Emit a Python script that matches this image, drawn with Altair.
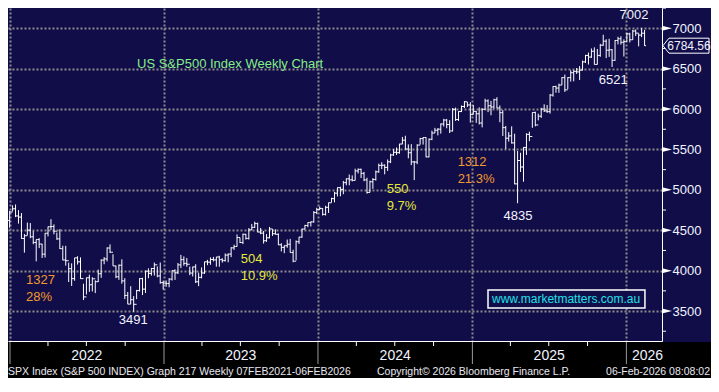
import altair as alt
import pandas as pd

NAVY = "#100d48"
GRID = "#8c8c8c"
FONT = "Liberation Sans"

# ---------------- weekly OHLC data (SPX, weeks ending Fridays) ----------------
first_open = 4538

close_2021 = [4712, 4621, 4726, 4766]
high_2021 = [4713, 4732, 4740, 4808]
low_2021 = [4532, 4600, 4531, 4734]

close_2022 = [4677, 4663, 4398, 4432, 4501, 4419, 4349, 4385, 4329, 4204, 4463, 4543, 4546,
              4488, 4393, 4272, 4132, 4123, 4024, 3901, 4158, 4109, 3901, 3675, 3912, 3825,
              3899, 3863, 3962, 4130, 4145, 4280, 4228, 4058, 3924, 4067, 3873, 3693, 3586,
              3640, 3583, 3753, 3901, 3771, 3993, 3965, 4026, 4072, 3934, 3852, 3845, 3840]
high_2022 = [4819, 4749, 4713, 4453, 4595, 4589, 4489, 4385, 4402, 4331, 4465, 4546, 4637,
             4573, 4471, 4513, 4308, 4307, 4099, 4090, 4158, 4178, 4164, 3838, 3913, 3950,
             3919, 3880, 4013, 4140, 4167, 4288, 4325, 4203, 4062, 4076, 4140, 3907, 3736,
             3807, 3685, 3762, 3906, 3911, 4001, 4028, 4034, 4100, 4052, 4101, 3876, 3878]
low_2022 = [4662, 4582, 4395, 4223, 4436, 4401, 4327, 4115, 4279, 4157, 4162, 4424, 4506,
            4450, 4381, 4268, 4128, 4062, 3859, 3811, 3875, 4075, 3900, 3637, 3705, 3738,
            3742, 3722, 3859, 3911, 4079, 4114, 4218, 4058, 3907, 3886, 3838, 3648, 3585,
            3584, 3491, 3647, 3741, 3698, 3723, 3906, 3938, 3939, 3918, 3838, 3764, 3800]

close_2023 = [3895, 3999, 3973, 4071, 4136, 4090, 4079, 3970, 4046, 3862, 3917, 3971, 4109,
              4105, 4138, 4133, 4169, 4136, 4124, 4192, 4205, 4282, 4299, 4410, 4348, 4450,
              4399, 4505, 4536, 4582, 4478, 4464, 4370, 4406, 4516, 4457, 4450, 4320, 4288,
              4308, 4327, 4224, 4117, 4358, 4415, 4514, 4559, 4595, 4604, 4719, 4755, 4770]
high_2023 = [3907, 4003, 4016, 4095, 4195, 4176, 4157, 4050, 4049, 4079, 3975, 4039, 4110,
             4133, 4164, 4170, 4170, 4184, 4155, 4213, 4213, 4290, 4322, 4448, 4408, 4458,
             4456, 4527, 4578, 4607, 4595, 4528, 4491, 4452, 4541, 4514, 4511, 4461, 4339,
             4311, 4385, 4393, 4259, 4374, 4418, 4521, 4567, 4598, 4609, 4738, 4778, 4794]
low_2023 = [3794, 3877, 3885, 3958, 4031, 4061, 4048, 3944, 3928, 3847, 3808, 3904, 3960,
            4068, 4073, 4114, 4049, 4048, 4099, 4113, 4103, 4167, 4257, 4297, 4341, 4328,
            4385, 4385, 4502, 4528, 4474, 4451, 4335, 4356, 4400, 4430, 4448, 4316, 4238,
            4216, 4283, 4223, 4104, 4127, 4329, 4406, 4510, 4537, 4546, 4593, 4699, 4751]

close_2024 = [4697, 4784, 4840, 4891, 4959, 5027, 5006, 5089, 5137, 5124, 5117, 5234, 5254,
              5204, 5123, 4967, 5100, 5128, 5223, 5303, 5305, 5278, 5347, 5432, 5465, 5460,
              5567, 5615, 5505, 5459, 5346, 5344, 5554, 5634, 5648, 5408, 5626, 5703, 5738,
              5751, 5815, 5864, 5808, 5729, 5996, 5870, 5969, 6032, 6090, 6051, 5931, 5971]
high_2024 = [4773, 4803, 4842, 4903, 4975, 5030, 5038, 5111, 5141, 5190, 5179, 5262, 5265,
             5263, 5222, 5150, 5114, 5146, 5239, 5325, 5342, 5315, 5376, 5447, 5505, 5524,
             5570, 5655, 5670, 5563, 5566, 5358, 5564, 5643, 5651, 5651, 5636, 5733, 5767,
             5765, 5822, 5879, 5878, 5863, 6012, 6018, 5973, 6044, 6099, 6087, 6085, 6050]
low_2024 = [4682, 4682, 4714, 4844, 4845, 4918, 4920, 4946, 5057, 5056, 5104, 5117, 5203,
            5146, 5107, 4953, 4969, 5012, 5114, 5211, 5257, 5192, 5234, 5331, 5420, 5432,
            5447, 5565, 5497, 5390, 5306, 5120, 5318, 5560, 5560, 5403, 5402, 5615, 5703,
            5674, 5696, 5784, 5762, 5703, 5723, 5853, 5853, 5963, 6013, 6026, 5832, 5932]

close_2025 = [5942, 5827, 5997, 6101, 6041, 6026, 6115, 6013, 5955, 5770, 5639, 5668, 5581,
              5074, 5363, 5283, 5525, 5687, 5660, 5958, 5803, 5912, 6000, 5977, 5968, 6173,
              6279, 6260, 6297, 6389, 6238, 6389, 6450, 6467, 6460, 6482, 6584, 6664, 6644,
              6716, 6553, 6664, 6791, 6840, 6729, 6734, 6603, 6849, 6870, 6827, 6835, 6930]
high_2025 = [5976, 6021, 6011, 6128, 6120, 6101, 6128, 6147, 6044, 5987, 5791, 5715, 5786,
             5695, 5481, 5459, 5528, 5700, 5720, 5959, 5968, 5944, 6016, 6059, 6050, 6187,
             6284, 6290, 6315, 6395, 6427, 6395, 6481, 6481, 6508, 6532, 6600, 6671, 6699,
             6750, 6764, 6744, 6807, 6920, 6864, 6870, 6743, 6854, 6895, 6901, 6863, 6945]
low_2025 = [5829, 5809, 5773, 5994, 5962, 5923, 6004, 6009, 5837, 5667, 5505, 5597, 5572,
            5069, 4835, 5221, 5101, 5433, 5602, 5768, 5786, 5860, 5891, 5964, 5953, 5944,
            6154, 6202, 6201, 6297, 6212, 6247, 6340, 6343, 6435, 6360, 6478, 6570, 6551,
            6633, 6550, 6551, 6647, 6782, 6631, 6646, 6521, 6598, 6800, 6798, 6650, 6836]

close_2026 = [6858, 6966, 6940, 6916, 6939, 6784.56]
high_2026 = [6945, 6980, 6986, 6937, 7002, 6980]
low_2026 = [6825, 6856, 6905, 6776, 6890, 6782]

closes = close_2021 + close_2022 + close_2023 + close_2024 + close_2025 + close_2026
highs = high_2021 + high_2022 + high_2023 + high_2024 + high_2025 + high_2026
lows = low_2021 + low_2022 + low_2023 + low_2024 + low_2025 + low_2026
opens = [first_open] + closes[:-1]
weeks = pd.date_range("2021-12-10", periods=len(closes), freq="W-FRI")
bars = pd.DataFrame({"week": weeks, "open": opens, "high": highs, "low": lows, "close": closes})

last_price = [6784.56]

# axis / tick values
y_major = [3500, 4000, 4500, 5000, 5500, 6000, 6500, 7000]
y_minor = [3250, 3750, 4250, 4750, 5250, 5750, 6250, 6750, 7250]
year_starts = ["2022-01-01", "2023-01-01", "2024-01-01", "2025-01-01", "2026-01-01"]
quarter_starts = ["2022-04-01", "2022-07-01", "2022-10-01", "2023-04-01", "2023-07-01",
                  "2023-10-01", "2024-04-01", "2024-07-01", "2024-10-01", "2025-04-01",
                  "2025-07-01", "2025-10-01"]
year_labels = ["2022", "2023", "2024", "2025", "2026"]
year_label_dates = ["2022-07-02", "2023-07-02", "2024-07-02", "2025-07-02", "2026-02-20"]

# annotations
left_texts = ["US S&P500 Index Weekly Chart", "1327", "28%", "504", "10.9%", "550", "9.7%",
              "1312", "21.3%"]
left_dates = ["2022-10-29", "2022-02-08", "2022-02-08", "2023-07-02", "2023-07-02",
              "2024-06-12", "2024-06-12", "2024-11-27", "2024-11-27"]
left_prices = [6558, 3884, 3674, 4144, 3934, 5010, 4800, 5345, 5134]
left_colors = ["#86ef86", "#f29a2e", "#f29a2e", "#e5e83a", "#e5e83a", "#e5e83a", "#e5e83a",
               "#f29a2e", "#f29a2e"]

center_texts = ["3491", "4835", "6521", "7002"]
center_dates = ["2022-10-20", "2025-04-19", "2025-12-01", "2026-01-19"]
center_prices = [3389, 4676, 6360, 7160]

web_text = ["www.marketmatters.com.au"]
web_date = ["2025-08-11"]
web_price = [3649]
web_box_dates = ["2025-02-07", "2026-02-14"]
web_box_prices = [3537, 3760]

footer_left = "SPX Index (S&P 500 INDEX) Graph 217 Weekly 07FEB2021-06FEB2026"
footer_mid = "Copyright\u00a9 2026 Bloomberg Finance L.P."
footer_right = "06-Feb-2026 08:08:02"

# ---------------- scales & axes ----------------
xscale = alt.Scale(domain=[alt.DateTime(year=2021, month=12, date=27, hours=6),
                           alt.DateTime(year=2026, month=3, date=26, hours=10)])
yscale = alt.Scale(domain=[3129, 7251], nice=False, zero=False)

xaxis = alt.Axis(values=[alt.DateTime(year=y, month=1, date=1) for y in range(2022, 2027)],
                 grid=True, gridColor=GRID, gridDash=[2, 2], gridWidth=2,
                 domain=True, domainColor="white", domainWidth=1,
                 ticks=False, labels=False, title=None)
yaxis = alt.Axis(orient="right", values=y_major, format="d", grid=True, gridColor=GRID,
                 gridDash=[2, 2], gridWidth=2, domain=True, domainColor="white",
                 domainWidth=1, ticks=False, tickSize=0, labelPadding=10,
                 labelColor="#f0f4ff", labelFont=FONT, labelFontSize=13, title=None)


def X(field):
    return alt.X(field, scale=xscale, axis=xaxis)


def Y(field):
    return alt.Y(field, scale=yscale, axis=yaxis)


base = alt.Chart(bars)
wick = base.mark_rule(color="white", strokeWidth=1, xOffset=3, clip=True).encode(
    x=X("week:T"), y=Y("low:Q"), y2="high:Q")
open_tick = base.mark_rule(color="white", strokeWidth=1, xOffset=1.5, x2Offset=3,
                           clip=True).encode(x=X("week:T"), x2="week:T", y=Y("open:Q"))
close_tick = base.mark_rule(color="white", strokeWidth=1, xOffset=3, x2Offset=4.5,
                            clip=True).encode(x=X("week:T"), x2="week:T", y=Y("close:Q"))

ann_left = alt.Chart(pd.DataFrame({"d": pd.to_datetime(left_dates), "p": left_prices,
                                   "t": left_texts, "c": left_colors})).mark_text(
    align="left", baseline="middle", font=FONT, fontSize=13).encode(
    x=X("d:T"), y=Y("p:Q"), text="t:N", color=alt.Color("c:N", scale=None))

ann_center = alt.Chart(pd.DataFrame({"d": pd.to_datetime(center_dates), "p": center_prices,
                                     "t": center_texts})).mark_text(
    align="center", baseline="middle", font=FONT, fontSize=13, color="#f4f4ff").encode(
    x=X("d:T"), y=Y("p:Q"), text="t:N")

web_box = alt.Chart(pd.DataFrame({"d1": [pd.Timestamp(web_box_dates[0])],
                                  "d2": [pd.Timestamp(web_box_dates[1])],
                                  "p1": [web_box_prices[0]], "p2": [web_box_prices[1]]})).mark_rect(
    fill=NAVY, stroke="white", strokeWidth=1.5).encode(
    x=X("d1:T"), x2="d2:T", y=Y("p1:Q"), y2="p2:Q")
web_label = alt.Chart(pd.DataFrame({"d": pd.to_datetime(web_date), "p": web_price,
                                    "t": web_text})).mark_text(
    align="center", baseline="middle", font=FONT, fontSize=12, color="#22e0e8").encode(
    x=X("d:T"), y=Y("p:Q"), text="t:N")

one = pd.DataFrame({"a": [0]})
bottom_strip = alt.Chart(one).mark_rect(color="black").encode(
    x=alt.value(0), x2=alt.value(703), y=alt.value(334), y2=alt.value(372))

year_lines = alt.Chart(pd.DataFrame({"d": pd.to_datetime(year_starts)})).mark_rule(
    color="#9a9a9a", strokeWidth=1).encode(x=X("d:T"), y=alt.value(334), y2=alt.value(356))
quarter_ticks = alt.Chart(pd.DataFrame({"d": pd.to_datetime(quarter_starts)})).mark_rule(
    color="white", strokeWidth=1).encode(x=X("d:T"), y=alt.value(334), y2=alt.value(338))
year_text = alt.Chart(pd.DataFrame({"d": pd.to_datetime(year_label_dates),
                                    "t": year_labels})).mark_text(
    align="center", baseline="alphabetic", font=FONT, fontSize=14, color="#f0f4ff").encode(
    x=X("d:T"), y=alt.value(352), text="t:N")

footer = alt.Chart(pd.DataFrame({"t": [footer_left]})).mark_text(
    align="left", baseline="alphabetic", font=FONT, fontSize=10.5, color="#e8e8f0").encode(
    x=alt.value(0), y=alt.value(367), text="t:N")
footer2 = alt.Chart(pd.DataFrame({"t": [footer_mid]})).mark_text(
    align="left", baseline="alphabetic", font=FONT, fontSize=10.5, color="#e8e8f0").encode(
    x=alt.value(369), y=alt.value(367), text="t:N")
footer3 = alt.Chart(pd.DataFrame({"t": [footer_right]})).mark_text(
    align="right", baseline="alphabetic", font=FONT, fontSize=10.5, color="#e8e8f0").encode(
    x=alt.value(702), y=alt.value(367), text="t:N")

minor_ticks = alt.Chart(pd.DataFrame({"v": y_minor})).mark_rule(
    color="white", strokeWidth=1).encode(x=alt.value(654), x2=alt.value(658), y=Y("v:Q"))
major_marks = alt.Chart(pd.DataFrame({"v": y_major})).mark_point(
    shape="M -1 -0.5 L 1 0 L -1 0.5 Z", size=100, filled=True, color="white",
    opacity=1, strokeWidth=0).encode(x=alt.value(659), y=Y("v:Q"))

price_box = alt.Chart(pd.DataFrame({"v": last_price})).mark_point(
    shape="M -1 0 L -0.74 -0.326 L 1 -0.326 L 1 0.326 L -0.74 0.326 Z", size=2116,
    filled=True, fill=NAVY, stroke="white", strokeWidth=1, opacity=1).encode(
    x=alt.value(678), y=Y("v:Q"))
price_text = alt.Chart(pd.DataFrame({"v": last_price, "t": ["6784.56"]})).mark_text(
    align="center", baseline="middle", font=FONT, fontSize=12, color="#f4f4ff").encode(
    x=alt.value(681), y=Y("v:Q"), text="t:N")

chart = alt.layer(
    wick, open_tick, close_tick, ann_left, ann_center, web_box, web_label,
    bottom_strip, year_lines, quarter_ticks, year_text, footer, footer2, footer3,
    minor_ticks, major_marks, price_box, price_text
).properties(
    width=654, height=333,
    padding={"left": 0, "top": 0, "right": 49, "bottom": 37},
    autosize=alt.AutoSizeParams(type="none"),
    background=NAVY,
).configure_view(fill=NAVY, stroke=None)

chart.save("out.html", embed_options={"renderer": "svg", "actions": False})
